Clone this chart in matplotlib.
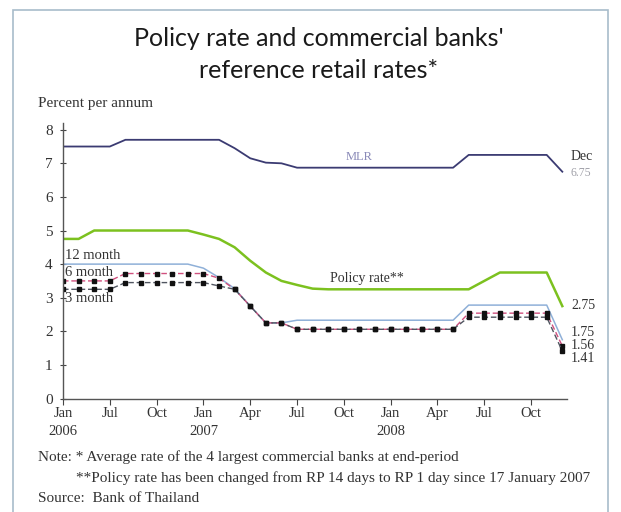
import matplotlib
matplotlib.use('Agg')
from matplotlib import pyplot as plt
from matplotlib.patches import Rectangle

# one point per observation, plotted on an evenly spaced index axis
n_points = 33
tick_positions = [0, 3, 6, 9, 12, 15, 18, 21, 24, 27, 30]
tick_labels = ['Jan\n2006', 'Jul', 'Oct', 'Jan\n2007', 'Apr', 'Jul', 'Oct',
               'Jan\n2008', 'Apr', 'Jul', 'Oct']

mlr = [7.5, 7.5, 7.5, 7.5, 7.7, 7.7, 7.7, 7.7, 7.7, 7.7, 7.7,
       7.45, 7.15, 7.02, 7.0, 6.87, 6.87, 6.87, 6.87, 6.87, 6.87,
       6.87, 6.87, 6.87, 6.87, 6.87, 7.25, 7.25, 7.25, 7.25, 7.25, 7.25, 6.75]
policy_rate = [4.75, 4.75, 5.0, 5.0, 5.0, 5.0, 5.0, 5.0, 5.0, 4.88, 4.75,
               4.5, 4.1, 3.75, 3.5, 3.38, 3.27, 3.25, 3.25, 3.25, 3.25,
               3.25, 3.25, 3.25, 3.25, 3.25, 3.25, 3.5, 3.75, 3.75, 3.75, 3.75, 2.75]
deposit_12m = [4.0, 4.0, 4.0, 4.0, 4.0, 4.0, 4.0, 4.0, 4.0, 3.88, 3.6,
               3.27, 2.75, 2.25, 2.25, 2.33, 2.33, 2.33, 2.33, 2.33, 2.33,
               2.33, 2.33, 2.33, 2.33, 2.33, 2.78, 2.78, 2.78, 2.78, 2.78, 2.78, 1.75]
deposit_6m = [3.5, 3.5, 3.5, 3.5, 3.72, 3.72, 3.72, 3.72, 3.72, 3.72, 3.58,
              3.25, 2.75, 2.25, 2.25, 2.06, 2.06, 2.06, 2.06, 2.06, 2.06,
              2.06, 2.06, 2.06, 2.06, 2.06, 2.54, 2.54, 2.54, 2.54, 2.54, 2.54, 1.56]
deposit_3m = [3.25, 3.25, 3.25, 3.25, 3.45, 3.45, 3.45, 3.45, 3.45, 3.45, 3.35,
              3.25, 2.75, 2.25, 2.25, 2.06, 2.06, 2.06, 2.06, 2.06, 2.06,
              2.06, 2.06, 2.06, 2.06, 2.06, 2.42, 2.42, 2.42, 2.42, 2.42, 2.42, 1.41]

x = list(range(n_points))

serif = ['Liberation Serif', 'DejaVu Serif']
text_color = '#333333'

# 621x512 px at dpi 100
fig = plt.figure(figsize=(6.21, 5.12), dpi=100)
fig.patch.set_facecolor('white')

# thin frame around the panel
fig.patches.append(Rectangle((13 / 621, -0.1), (608 - 13) / 621, 1.1 - 10 / 512,
                             transform=fig.transFigure, fill=False,
                             edgecolor='#a8bccb', linewidth=1.2))

ax = fig.add_axes([63 / 621, 1 - 398.5 / 512, 504 / 621, 275.5 / 512])

ax.plot(x, mlr, color='#3b3b72', linewidth=1.3)
ax.plot(x, policy_rate, color='#7cc11f', linewidth=1.8)
ax.plot(x, deposit_12m, color='#8fb0d8', linewidth=1.1)
ax.plot(x, deposit_6m, color='#d0507e', linewidth=1.0, linestyle=(0, (4, 2)),
        marker='s', markersize=2.8, markerfacecolor='#111111', markeredgecolor='#111111')
ax.plot(x, deposit_3m, color='#505560', linewidth=1.0, linestyle=(0, (4, 2)),
        marker='s', markersize=2.8, markerfacecolor='#111111', markeredgecolor='#111111')

ax.set_xlim(0, 32.3)
ax.set_ylim(0, 8.2)
ax.set_yticks(range(0, 9))
ax.set_xticks(tick_positions)
ax.set_xticklabels(tick_labels, fontfamily=serif, fontsize=10.5, color=text_color,
                   linespacing=1.5)
ax.set_yticklabels([str(v) for v in range(0, 9)], fontfamily=serif, fontsize=11,
                   color=text_color)
ax.tick_params(axis='y', direction='inout', length=5, width=0.8, color='#444444', pad=5)
ax.tick_params(axis='x', direction='out', length=4, width=0.8, color='#444444', pad=2)
for side in ['top', 'right']:
    ax.spines[side].set_visible(False)
for side in ['left', 'bottom']:
    ax.spines[side].set_color('#555555')
    ax.spines[side].set_linewidth(1.0)

# in-chart series labels
ax.text(19.0, 7.19, 'MLR', fontfamily=serif, fontsize=9, color='#8a8ab8',
        ha='center', va='center')
ax.text(19.5, 3.56, 'Policy rate**', fontfamily=serif, fontsize=10, color='#333333',
        ha='center', va='center')
ax.text(0.15, 4.27, '12 month', fontfamily=serif, fontsize=10.5, color=text_color, va='center')
ax.text(0.15, 3.76, '6 month', fontfamily=serif, fontsize=10.5, color=text_color, va='center')
ax.text(0.15, 2.99, '3 month', fontfamily=serif, fontsize=10.5, color=text_color, va='center')

# end-of-series labels
end_x = 32.55
ax.text(end_x, 7.19, 'Dec', fontfamily=serif, fontsize=10, color=text_color,
        va='center', clip_on=False)
ax.text(end_x, 6.71, '6.75', fontfamily=serif, fontsize=8.5, color='#a0a0a8',
        va='center', clip_on=False)
ax.text(end_x, 2.78, '2.75', fontfamily=serif, fontsize=10, color=text_color,
        va='center', clip_on=False)
ax.text(end_x, 1.95, '1.75', fontfamily=serif, fontsize=10, color=text_color,
        va='center', clip_on=False)
ax.text(end_x, 1.59, '1.56', fontfamily=serif, fontsize=10, color=text_color,
        va='center', clip_on=False)
ax.text(end_x, 1.2, '1.41', fontfamily=serif, fontsize=10, color=text_color,
        va='center', clip_on=False)

# title and notes
fig.text(319 / 621, 1 - 38 / 512, "Policy rate and commercial banks'",
         fontfamily=['Lato', 'DejaVu Sans'], fontsize=18, color='#1a1a1a',
         ha='center', va='center')
fig.text(319 / 621, 1 - 70 / 512, 'reference retail rates*',
         fontfamily=['Lato', 'DejaVu Sans'], fontsize=18, color='#1a1a1a',
         ha='center', va='center')
fig.text(38 / 621, 1 - 103 / 512, 'Percent per annum', fontfamily=serif, fontsize=11,
         color=text_color, va='center')

fig.text(38 / 621, 1 - 457 / 512,
         'Note: * Average rate of the 4 largest commercial banks at end-period',
         fontfamily=serif, fontsize=11, color=text_color, va='center')
fig.text(76 / 621, 1 - 478 / 512,
         '**Policy rate has been changed from RP 14 days to RP 1 day since 17 January 2007',
         fontfamily=serif, fontsize=11, color=text_color, va='center')
fig.text(38 / 621, 1 - 498 / 512, 'Source:  Bank of Thailand',
         fontfamily=serif, fontsize=11, color=text_color, va='center')

fig.savefig('out.png', dpi=100)
